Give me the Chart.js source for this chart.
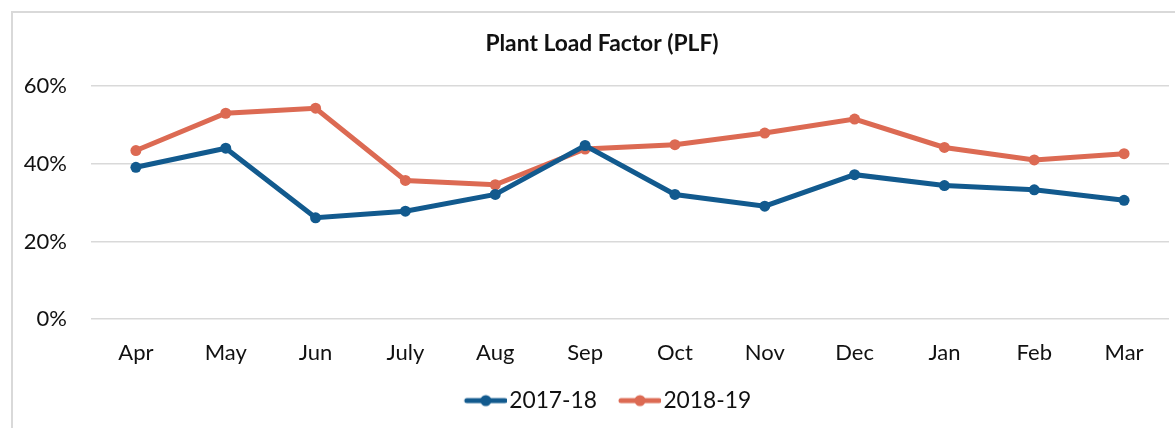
<!DOCTYPE html>
<html>
<head>
<meta charset="utf-8">
<script src="https://cdn.jsdelivr.net/npm/chart.js@4/dist/chart.umd.min.js"></script>
<style>
  html, body { margin: 0; padding: 0; background: #fff; overflow: hidden; width: 1175px; height: 428px; }
  #frame { position: absolute; left: 11px; top: 11px; width: 1200px; height: 430px; border-left: 2px solid #d9d9d9; border-top: 2px solid #d9d9d9; }
  #wrap { position: absolute; left: 13px; top: 13px; width: 1180px; height: 415px; }
</style>
</head>
<body>
<div id="frame"></div>
<div id="wrap"><canvas id="c" width="1180" height="415"></canvas></div>
<script>
const categories = ['Apr', 'May', 'Jun', 'July', 'Aug', 'Sep', 'Oct', 'Nov', 'Dec', 'Jan', 'Feb', 'Mar'];
const series2017 = [39.1, 44.0, 26.1, 27.8, 32.1, 44.7, 32.1, 29.1, 37.2, 34.4, 33.3, 30.6];
const series2018 = [43.4, 53.0, 54.3, 35.7, 34.6, 43.8, 44.9, 47.9, 51.5, 44.2, 41.0, 42.6];
const seriesNames = ['2017-18', '2018-19'];
const yTicks = [0, 20, 40, 60];
const titleText = 'Plant Load Factor (PLF)';

const BLUE = '#125a8e';
const ORANGE = '#dc6a53';
const FONT = 'Lato, "Open Sans", sans-serif';

function legendIcon(color) {
  const cv = document.createElement('canvas');
  cv.width = 63; cv.height = 14;
  const g = cv.getContext('2d');
  g.strokeStyle = color; g.lineWidth = 5; g.lineCap = 'round';
  g.beginPath(); g.moveTo(23, 7); g.lineTo(61, 7); g.stroke();
  g.fillStyle = color;
  g.beginPath(); g.arc(42, 7, 5.5, 0, Math.PI * 2); g.fill();
  return cv;
}
const icons = [legendIcon(BLUE), legendIcon(ORANGE)];

new Chart(document.getElementById('c'), {
  type: 'line',
  data: {
    labels: categories,
    datasets: [
      { label: seriesNames[0], data: series2017, borderColor: BLUE, backgroundColor: BLUE, borderWidth: 5, pointRadius: 5.5, pointBackgroundColor: BLUE, pointBorderWidth: 0, tension: 0 },
      { label: seriesNames[1], data: series2018, borderColor: ORANGE, backgroundColor: ORANGE, borderWidth: 5, pointRadius: 5.5, pointBackgroundColor: ORANGE, pointBorderWidth: 0, tension: 0 }
    ]
  },
  options: {
    responsive: false,
    animation: false,
    devicePixelRatio: 1,
    layout: { padding: { left: 0, right: 2, top: 0, bottom: 6 } },
    plugins: {
      title: {
        display: true, text: titleText, color: '#111',
        font: { family: FONT, size: 22.8, weight: 'bold', lineHeight: 1.2 },
        padding: { top: 17.3, bottom: 28.4 }
      },
      legend: {
        position: 'bottom',
        labels: {
          color: '#111',
          font: { family: FONT, size: 22.8 },
          usePointStyle: true,
          pointStyleWidth: 45,
          padding: 10,
          generateLabels: (chart) => chart.data.datasets.map((ds, i) => ({
            text: ds.label, pointStyle: icons[i], fillStyle: ds.borderColor,
            strokeStyle: ds.borderColor, lineWidth: 0, fontColor: '#111', datasetIndex: i, hidden: false
          }))
        }
      },
      tooltip: { enabled: false }
    },
    scales: {
      x: {
        offset: true,
        grid: { display: false, drawTicks: false },
        border: { display: false },
        ticks: { color: '#111', font: { family: FONT, size: 22 }, padding: 21, maxRotation: 0 },
        afterFit: (s) => { s.height = 60; }
      },
      y: {
        min: 0, max: 60,
        afterBuildTicks: (s) => { s.ticks = yTicks.map(v => ({ value: v })); },
        grid: { color: '#d9d9d9', lineWidth: 1.5, drawTicks: false },
        border: { display: false },
        ticks: { color: '#111', font: { family: FONT, size: 22 }, padding: 24, callback: (v) => v + '%' },
        afterFit: (s) => { s.width = 78; }
      },
      yRightSpace: {
        position: 'right',
        min: 0, max: 60,
        grid: { display: false, drawTicks: false },
        border: { display: false },
        ticks: { display: false },
        afterFit: (s) => { s.width = 22; }
      }
    }
  }
});
</script>
</body>
</html>
